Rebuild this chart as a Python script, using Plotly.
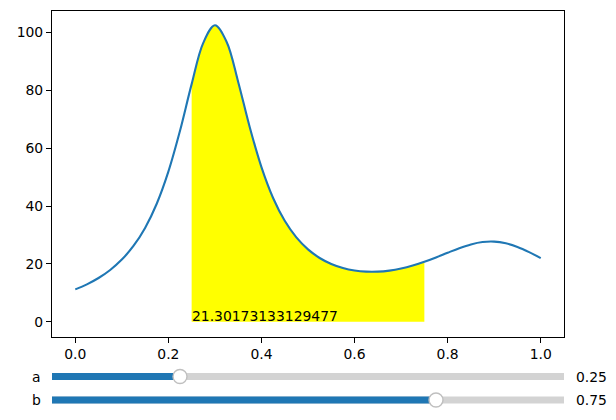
import numpy as np
import plotly.graph_objects as go

# Curve samples
x_vals = [0.0, 0.025, 0.05, 0.075, 0.1, 0.125, 0.15, 0.175, 0.2, 0.225, 0.25,
          0.275, 0.3, 0.325, 0.35, 0.375, 0.4, 0.425, 0.45, 0.475, 0.5,
          0.525, 0.55, 0.575, 0.6, 0.625, 0.65, 0.675, 0.7, 0.725, 0.75,
          0.775, 0.8, 0.825, 0.85, 0.875, 0.9, 0.925, 0.95, 0.975, 1.0]
y_vals = [11.18, 12.92, 15.10, 17.88, 21.47, 26.18, 32.43, 40.79, 51.89, 66.02, 82.16,
          96.44, 102.50, 96.82, 82.92, 67.17, 53.45, 42.79, 34.89, 29.15, 25.00,
          22.03, 19.95, 18.55, 17.69, 17.30, 17.30, 17.67, 18.38, 19.41, 20.71,
          22.22, 23.85, 25.42, 26.73, 27.55, 27.70, 27.11, 25.84, 24.07, 22.00]

slider_names = ["a", "b"]
slider_values = [0.25, 0.75]
integral_label = "21.30173133129477"

x_ticks = [0.0, 0.2, 0.4, 0.6, 0.8, 1.0]
y_ticks = [0, 20, 40, 60, 80, 100]

BLUE = "#1f77b4"
FONT = dict(family="DejaVu Sans", size=13.9, color="black")

xa = np.array(x_vals)
ya = np.array(y_vals)
lo, hi = slider_values
mask = (xa >= lo - 1e-9) & (xa <= hi + 1e-9)

fig = go.Figure()

# Shaded region
fig.add_trace(go.Scatter(x=xa[mask], y=ya[mask], mode="lines", fill="tozeroy",
                         fillcolor="yellow", line=dict(width=0, color="yellow", shape="spline"),
                         hoverinfo="skip", showlegend=False))
# Curve
fig.add_trace(go.Scatter(x=xa, y=ya, mode="lines", line=dict(color=BLUE, width=2.1, shape="spline"),
                         showlegend=False))

# Sliders
slider_axes = [("x2", "y2"), ("x3", "y3")]
for (xr, yr), name, val in zip(slider_axes, slider_names, slider_values):
    fig.add_trace(go.Bar(x=[1.0], y=[0], base=0, orientation="h", width=0.7,
                         marker=dict(color="#d3d3d3", line=dict(width=0)),
                         xaxis=xr, yaxis=yr, showlegend=False, hoverinfo="skip"))
    fig.add_trace(go.Bar(x=[val], y=[0], base=0, orientation="h", width=0.7,
                         marker=dict(color=BLUE, line=dict(width=0)),
                         xaxis=xr, yaxis=yr, showlegend=False, hoverinfo="skip"))
    fig.add_trace(go.Scatter(x=[val], y=[0], mode="markers",
                             marker=dict(size=14, color="white", line=dict(color="#bfbfbf", width=1.4)),
                             xaxis=xr, yaxis=yr, showlegend=False, cliponaxis=False))

W, H = 616, 420
ml, mr, mt, mb = 52, 52, 10, 10
ph = H - mt - mb
pw = W - ml - mr

def py(px):
    return (H - mb - px) / ph

def pxx(px):
    return (px - ml) / pw

slider_centers = [376.5, 400.0]
half = 10 / ph

annotations = []
for name, val, c in zip(slider_names, slider_values, slider_centers):
    annotations.append(dict(x=pxx(43), y=py(c), xref="paper", yref="paper", text=name,
                            showarrow=False, xanchor="right", yanchor="middle", font=FONT))
    annotations.append(dict(x=pxx(574), y=py(c), xref="paper", yref="paper", text=f"{val:.2f}",
                            showarrow=False, xanchor="left", yanchor="middle", font=FONT))

annotations.append(dict(x=lo, y=0, xref="x", yref="y", text=integral_label, showarrow=False,
                        xanchor="left", yanchor="bottom", yshift=-4, xshift=-2, font=FONT))

hidden = dict(visible=False, fixedrange=True)
fig.update_layout(
    width=W, height=H,
    margin=dict(l=ml, r=mr, t=mt, b=mb),
    paper_bgcolor="white", plot_bgcolor="white",
    font=FONT,
    barmode="overlay",
    showlegend=False,
    annotations=annotations,
    xaxis=dict(range=[-0.05, 1.05], domain=[0, 1], tickvals=x_ticks, ticktext=[f"{v:.1f}" for v in x_ticks],
               showgrid=False, zeroline=False, showline=True, mirror=True, linecolor="black", linewidth=1.1,
               ticks="outside", ticklen=5, tickwidth=1.1, tickcolor="black", anchor="y"),
    yaxis=dict(range=[-5.125, 107.625], domain=[py(336.5), py(10.5)], tickvals=y_ticks,
               showgrid=False, zeroline=False, showline=True, mirror=True, linecolor="black", linewidth=1.1,
               ticks="outside", ticklen=5, tickwidth=1.1, tickcolor="black", anchor="x"),
    xaxis2=dict(range=[0, 1], domain=[0, 1], anchor="y2", **hidden),
    yaxis2=dict(range=[-1, 1], domain=[py(slider_centers[0]) - half, py(slider_centers[0]) + half], anchor="x2", **hidden),
    xaxis3=dict(range=[0, 1], domain=[0, 1], anchor="y3", **hidden),
    yaxis3=dict(range=[-1, 1], domain=[py(slider_centers[1]) - half, py(slider_centers[1]) + half], anchor="x3", **hidden),
)

fig.write_html("out.html", config={"displayModeBar": False},
               post_script="document.body.style.margin='0';")
